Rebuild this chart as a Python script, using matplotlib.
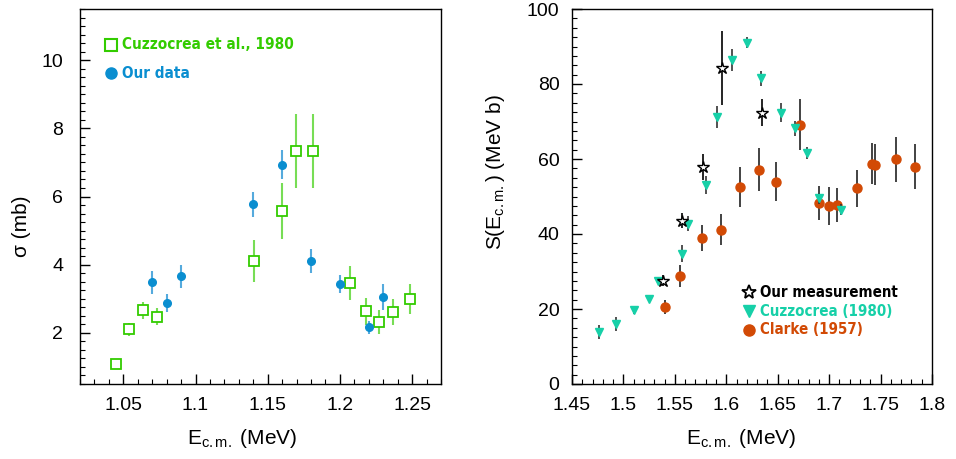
import matplotlib
matplotlib.use('Agg')
import matplotlib.pyplot as plt
from matplotlib.ticker import MultipleLocator, FuncFormatter

plt.rcParams['font.family'] = ['Liberation Sans', 'DejaVu Sans']
plt.rcParams['mathtext.fontset'] = 'custom'
plt.rcParams['mathtext.rm'] = 'Liberation Sans'
plt.rcParams['mathtext.it'] = 'Liberation Sans'

# --- panel izquierdo: sección eficaz ---
cuz_e = [1.0447, 1.0542, 1.0636, 1.0733, 1.1407, 1.1599, 1.1693, 1.1816,
         1.2072, 1.2178, 1.2273, 1.2367, 1.2483]
cuz_sigma = [1.08, 2.10, 2.66, 2.47, 4.10, 5.57, 7.33, 7.33,
             3.46, 2.63, 2.31, 2.61, 2.99]
cuz_sigma_err = [0.05, 0.2, 0.25, 0.25, 0.61, 0.83, 1.08, 1.08,
                 0.51, 0.39, 0.35, 0.39, 0.44]

our_e = [1.07, 1.08, 1.09, 1.14, 1.16, 1.18, 1.20, 1.22, 1.23]
our_sigma = [3.48, 2.88, 3.66, 5.77, 6.93, 4.10, 3.44, 2.16, 3.05]
our_sigma_err = [0.33, 0.27, 0.33, 0.37, 0.42, 0.35, 0.27, 0.18, 0.39]

# --- panel derecho: factor S ---
meas_e = [1.538, 1.557, 1.577, 1.596, 1.635]
meas_s = [27.6, 43.5, 57.9, 84.3, 72.4]
meas_err = [1.5, 2.0, 3.4, 9.8, 3.6]

cuzS_e = [1.476, 1.493, 1.510, 1.525, 1.534, 1.557, 1.563, 1.580, 1.591,
          1.606, 1.620, 1.634, 1.653, 1.667, 1.678, 1.690, 1.712]
cuzS_s = [13.9, 16.0, 19.7, 22.8, 27.6, 34.8, 42.8, 53.1, 71.3,
          86.4, 91.0, 81.5, 72.4, 68.2, 61.5, 49.5, 46.5]
cuzS_err = [1.9, 1.9, 1.0, 1.0, 1.0, 2.2, 2.0, 2.4, 2.9,
            2.9, 1.5, 2.0, 2.4, 2.0, 1.6, 1.5, 1.5]

clarke_e = [1.540, 1.555, 1.576, 1.595, 1.613, 1.632, 1.648, 1.672,
            1.690, 1.700, 1.708, 1.727, 1.742, 1.745, 1.765, 1.783]
clarke_s = [20.6, 28.8, 39.0, 41.2, 52.5, 57.2, 54.0, 69.2,
            48.2, 47.5, 47.8, 52.2, 58.8, 58.5, 60.0, 58.0]
clarke_err = [1.8, 2.9, 3.5, 4.2, 5.3, 5.6, 5.2, 6.7,
              4.5, 5.0, 4.5, 5.0, 5.5, 5.5, 6.0, 6.0]

VERDE = '#33cc00'
VERDE_ERR = '#77dd55'
AZUL = '#0a8ed0'
AZUL_ERR = '#55aadd'
TURQUESA = '#16d0a8'
NARANJA = '#d24a05'

fmt = FuncFormatter(lambda v, p: f'{v:g}')
LEYENDA = dict(fontweight='bold', va='center', ha='left',
               family='DejaVu Sans', fontstretch='condensed')


def estilo(ax):
    for s in ax.spines.values():
        s.set_linewidth(1.0)
    ax.tick_params(which='both', direction='in', top=False, right=False,
                   labelsize=14, pad=9)
    ax.tick_params(which='major', length=7, width=1.0)
    ax.tick_params(which='minor', length=3.5, width=0.8)


fig = plt.figure(figsize=(9.56, 4.59), dpi=100)
ax1 = fig.add_axes([80 / 956, 1 - 384 / 459, 361 / 956, 375 / 459])
ax2 = fig.add_axes([572 / 956, 1 - 384 / 459, 360 / 956, 375 / 459])

# izquierdo
ax1.errorbar(cuz_e, cuz_sigma, yerr=cuz_sigma_err, fmt='s', ms=7.5,
             mfc='white', mec=VERDE, mew=1.3, ecolor=VERDE_ERR, elinewidth=1.5,
             capsize=0, zorder=3)
ax1.errorbar(our_e, our_sigma, yerr=our_sigma_err, fmt='o', ms=5.5,
             color=AZUL, ecolor=AZUL_ERR, elinewidth=1.5, capsize=0, zorder=4)
ax1.set_xlim(1.02, 1.27)
ax1.set_ylim(0.5, 11.5)
ax1.xaxis.set_major_locator(MultipleLocator(0.05))
ax1.xaxis.set_minor_locator(MultipleLocator(0.01))
ax1.yaxis.set_major_locator(MultipleLocator(2))
ax1.yaxis.set_minor_locator(MultipleLocator(0.25))
ax1.xaxis.set_major_formatter(fmt)
ax1.yaxis.set_major_formatter(fmt)
ax1.set_yticks([2, 4, 6, 8, 10])
estilo(ax1)
ax1.tick_params(axis='y', pad=12)
ax1.set_xlabel(r'E$_{\mathregular{c.m.}}$ (MeV)', fontsize=15)
ax1.set_ylabel('σ (mb)', fontsize=15)
ax1.xaxis.set_label_coords(0.45, -0.115)
ax1.yaxis.set_label_coords(-0.135, 0.42)

ax1.plot([1.0413], [10.45], 's', ms=8, mfc='white', mec=VERDE, mew=1.5)
ax1.text(1.0489, 10.45, 'Cuzzocrea et al., 1980', color=VERDE, fontsize=11, **LEYENDA)
ax1.plot([1.0413], [9.62], 'o', ms=8, color=AZUL)
ax1.text(1.0489, 9.62, 'Our data', color=AZUL, fontsize=11, **LEYENDA)

# derecho
ax2.errorbar(clarke_e, clarke_s, yerr=clarke_err, fmt='o', ms=6.5,
             color=NARANJA, ecolor='#222222', elinewidth=1.2, capsize=0, zorder=3)
ax2.errorbar(cuzS_e, cuzS_s, yerr=cuzS_err, fmt='v', ms=6,
             color=TURQUESA, ecolor='#333333', elinewidth=1.2, capsize=0, zorder=4)
ax2.errorbar(meas_e, meas_s, yerr=meas_err, fmt='*', ms=9,
             mfc='white', mec='black', mew=1.0, ecolor='black', elinewidth=1.2,
             capsize=0, zorder=5)
ax2.set_xlim(1.45, 1.8)
ax2.set_ylim(0, 100)
ax2.xaxis.set_major_locator(MultipleLocator(0.05))
ax2.xaxis.set_minor_locator(MultipleLocator(0.01))
ax2.yaxis.set_major_locator(MultipleLocator(20))
ax2.yaxis.set_minor_locator(MultipleLocator(2.5))
ax2.xaxis.set_major_formatter(fmt)
ax2.yaxis.set_major_formatter(fmt)
estilo(ax2)
ax2.set_xlabel(r'E$_{\mathregular{c.m.}}$ (MeV)', fontsize=15)
ax2.set_ylabel(r'S(E$_{\mathregular{c.m.}}$) (MeV b)', fontsize=15)
ax2.xaxis.set_label_coords(0.47, -0.115)
ax2.yaxis.set_label_coords(-0.18, 0.565)

leg_x = 1.622
txt_x = 1.6328
ax2.plot([leg_x], [24.5], '*', ms=10, mfc='white', mec='black', mew=1.3)
ax2.text(txt_x, 24.5, 'Our measurement', color='black', fontsize=10.8, **LEYENDA)
ax2.plot([leg_x], [19.4], 'v', ms=8, color=TURQUESA)
ax2.text(txt_x, 19.4, 'Cuzzocrea (1980)', color=TURQUESA, fontsize=10.8, **LEYENDA)
ax2.plot([leg_x], [14.4], 'o', ms=8, color=NARANJA)
ax2.text(txt_x, 14.4, 'Clarke (1957)', color=NARANJA, fontsize=10.8, **LEYENDA)

fig.savefig('out.png', dpi=100)
